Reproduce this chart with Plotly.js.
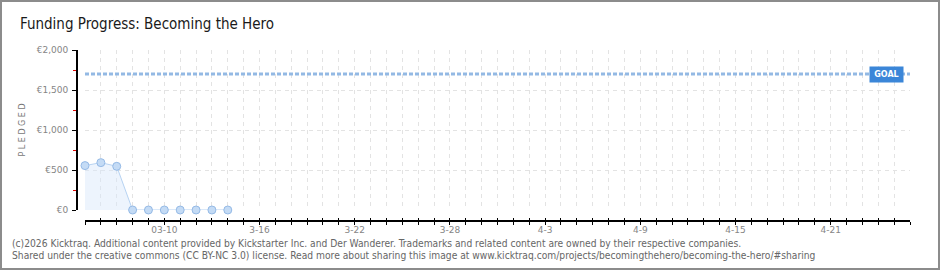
<!DOCTYPE html>
<html>
<head>
<meta charset="utf-8">
<script src="https://cdn.plot.ly/plotly-3.0.1.min.js"></script>
<style>
  html, body { margin: 0; padding: 0; background: #fff; }
  #wrap { position: relative; width: 940px; height: 270px; }
  #chart { width: 940px; height: 270px; }
  #frame { position: absolute; left: 0; top: 0; width: 940px; height: 270px; box-sizing: border-box; border: 2px solid #8c8c8c; pointer-events: none; }
</style>
</head>
<body>
<div id="wrap"><div id="chart"></div><div id="frame"></div></div>
<script>
// ---- data ----
const dates = ['2026-03-05','2026-03-06','2026-03-07','2026-03-08','2026-03-09',
               '2026-03-10','2026-03-11','2026-03-12','2026-03-13','2026-03-14'];
const pledged = [555, 592, 546, 0, 0, 0, 0, 0, 0, 0];
const goal = 1700;
const rangeStart = '2026-03-05';
const rangeEnd = '2026-04-26';
const tickDates = ['2026-03-10','2026-03-16','2026-03-22','2026-03-28',
                   '2026-04-03','2026-04-09','2026-04-15','2026-04-21'];
const tickLabels = ['03-10','3-16','3-22','3-28','4-3','4-9','4-15','4-21'];
const yTicks = [0, 500, 1000, 1500, 2000];
const yLabels = ['€0','€500','€1,000','€1,500','€2,000'];
const titleText = 'Funding Progress: Becoming the Hero';
const footer1 = '(c)2026 Kicktraq. Additional content provided by Kickstarter Inc. and Der Wanderer. Trademarks and related content are owned by their respective companies.';
const footer2 = 'Shared under the creative commons (CC BY-NC 3.0) license. Read more about sharing this image at www.kicktraq.com/projects/becomingthehero/becoming-the-hero/#sharing';

// ---- layout geometry (pixels) ----
const W = 940, H = 270;
const L = 76, R = 910, T = 50, B = 220;   // paper box
const plotLeft = 85, zeroY = 210;
const pw = R - L, ph = B - T;
const px = v => (v - L) / pw;
const py = v => (B - v) / ph;

const DAY = 86400000;
const gridColor = '#e3e3e3';
const tickFont = { family: 'DejaVu Sans, sans-serif', size: 9, color: '#858585' };
const condensed = 'DejaVu Sans Condensed, sans-serif';

const traces = [
  {
    x: [rangeStart, rangeEnd], y: [goal, goal],
    type: 'scatter', mode: 'lines',
    line: { color: '#93b9e4', width: 3, dash: '4px,2px' },
    hoverinfo: 'skip', showlegend: false
  },
  {
    x: dates, y: pledged,
    type: 'scatter', mode: 'lines+markers',
    fill: 'tozeroy', fillcolor: 'rgba(215,230,250,0.45)',
    line: { color: '#b7d3f2', width: 1 },
    marker: { size: 8, color: '#c4dbf5', line: { color: '#95bae6', width: 1 } },
    cliponaxis: false, showlegend: false
  },
  { x: [], y: [], xaxis: 'x2', yaxis: 'y', type: 'scatter', showlegend: false }
];

const layout = {
  width: W, height: H,
  margin: { l: L, r: W - R, t: T, b: H - B, pad: 0 },
  paper_bgcolor: '#fff', plot_bgcolor: '#fff',
  showlegend: false,
  title: {
    text: titleText,
    font: { family: condensed, size: 15, color: '#1a1a1a' },
    xref: 'container', yref: 'container',
    x: 20 / W, xanchor: 'left',
    y: 1 - 24 / H, yanchor: 'middle'
  },
  xaxis: {
    type: 'date',
    domain: [px(plotLeft), 1],
    range: [rangeStart, rangeEnd],
    anchor: 'free', position: 0,
    showline: true, linecolor: '#000', linewidth: 1.5,
    tickmode: 'array', tickvals: tickDates, ticktext: tickLabels,
    ticks: 'outside', ticklen: 3, tickcolor: '#000', tickwidth: 1,
    ticklabelstandoff: -2,
    tickfont: tickFont,
    showgrid: true, gridcolor: gridColor, griddash: '4px,4px', gridwidth: 1,
    minor: {
      tickmode: 'linear', tick0: rangeStart, dtick: DAY,
      ticks: 'outside', ticklen: 3, tickcolor: '#000', tickwidth: 1,
      showgrid: true, gridcolor: gridColor, griddash: '4px,4px', gridwidth: 1
    },
    zeroline: false, fixedrange: true
  },
  xaxis2: {
    type: 'date', overlaying: 'x',
    range: [rangeStart, rangeEnd],
    anchor: 'free', position: 0,
    showline: false, showgrid: false, zeroline: false,
    tickmode: 'linear', tick0: rangeStart, dtick: DAY,
    ticks: 'inside', ticklen: 2, tickcolor: '#000', tickwidth: 1,
    showticklabels: false
  },
  yaxis: {
    domain: [py(zeroY), 1],
    range: [0, 2000],
    anchor: 'free', position: 0,
    showline: true, linecolor: '#000', linewidth: 1.5,
    tickmode: 'array', tickvals: yTicks, ticktext: yLabels,
    ticks: 'outside', ticklen: 4, tickcolor: '#000', tickwidth: 1,
    ticklabelstandoff: 2,
    tickfont: tickFont,
    showgrid: true, gridcolor: gridColor, griddash: '4px,4px', gridwidth: 1,
    minor: {
      tickmode: 'linear', tick0: 250, dtick: 500,
      ticks: 'outside', ticklen: 3, tickcolor: '#e00000', tickwidth: 1,
      showgrid: false
    },
    title: {
      text: 'P L E D G E D',
      font: { family: 'DejaVu Sans, sans-serif', size: 8, color: '#777' },
      standoff: 8
    },
    zeroline: false, fixedrange: true
  },
  annotations: [
    {
      xref: 'x', yref: 'y', x: rangeEnd, y: goal,
      xanchor: 'right', yanchor: 'middle', xshift: -6,
      text: '<b>GOAL</b>', showarrow: false,
      font: { family: 'DejaVu Sans, sans-serif', size: 8, color: '#fff' },
      bgcolor: '#3b86d8', borderpad: 3, width: 27
    },
    {
      xref: 'paper', yref: 'paper', x: px(10), y: py(243),
      xanchor: 'left', yanchor: 'middle', showarrow: false,
      text: footer1,
      font: { family: condensed, size: 10.2, color: '#666' }
    },
    {
      xref: 'paper', yref: 'paper', x: px(10), y: py(256),
      xanchor: 'left', yanchor: 'middle', showarrow: false,
      text: footer2,
      font: { family: condensed, size: 10.2, color: '#666' }
    }
  ]
};

Plotly.newPlot('chart', traces, layout, { staticPlot: true, displayModeBar: false });
</script>
</body>
</html>
